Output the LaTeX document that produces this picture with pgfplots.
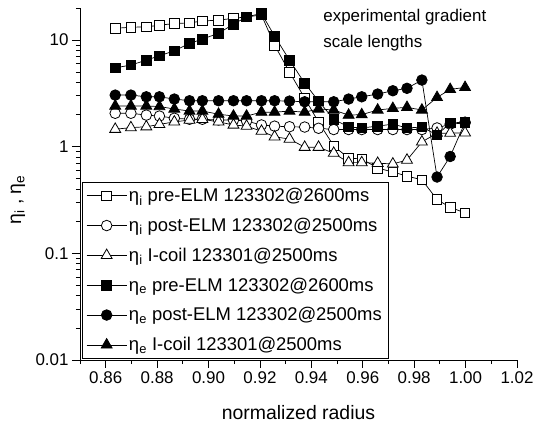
\documentclass[border=0pt]{standalone}
\usepackage{fontspec}
\setmainfont{Liberation Sans}
\usepackage{pgfplots}
\pgfplotsset{compat=1.18}
\usepackage{pgfplotstable}

\pgfplotstableread{
x ipre ipost icoil epre epost ecoil
0.8637 12.9 2.06 1.46 5.50 3.05 2.41
0.8698 13.2 2.06 1.51 5.83 3.05 2.41
0.8758 13.3 1.98 1.54 6.49 2.94 2.41
0.8809 13.8 1.94 1.62 7.12 2.94 2.38
0.8867 14.3 1.85 1.71 7.94 2.80 2.26
0.8926 14.5 1.81 1.78 9.31 2.70 2.16
0.8976 15.1 1.81 1.81 10.2 2.70 2.16
0.9039 15.4 1.78 1.71 11.6 2.70 2.02
0.9097 16.0 1.78 1.60 14.1 2.70 1.94
0.9148 16.5 1.74 1.56 16.5 2.70 1.94
0.9206 17.2 1.60 1.40 17.8 2.70 2.11
0.9257 8.97 1.56 1.24 10.9 2.70 2.11
0.9315 5.01 1.54 1.18 6.49 2.68 2.16
0.9374 2.86 1.53 0.99 3.95 2.64 2.11
0.9428 1.70 1.49 0.99 2.68 2.64 2.26
0.9487 1.02 1.45 0.87 1.81 2.64 2.21
0.9545 0.78 1.45 0.71 1.53 2.80 1.98
0.9596 0.77 1.45 0.71 1.50 2.94 2.00
0.9658 0.63 1.45 0.70 1.56 3.12 2.21
0.9717 0.58 1.45 0.69 1.63 3.35 2.29
0.9772 0.53 1.45 0.75 1.50 3.53 2.34
0.9830 0.49 1.45 1.11 1.53 4.22 2.21
0.9889 0.32 1.50 1.34 1.29 0.52 2.90
0.9940 0.27 1.63 1.34 1.67 0.81 3.45
0.9998 0.24 1.67 1.35 1.70 1.70 3.60
}\data

\begin{document}
\begin{tikzpicture}
\begin{axis}[
  scale only axis, width=437bp, height=352bp,
  xmin=0.85, xmax=1.02, ymode=log, ymin=0.01, ymax=20,
  axis x line*=bottom, axis y line*=left,
  axis line style={-, line width=0.8bp},
  every tick/.style={black, line width=0.8bp},
  tick align=outside, major tick length=8bp, minor tick length=4bp,
  xtick={0.86,0.88,0.90,0.92,0.94,0.96,0.98,1.00,1.02},
  minor xtick={0.85,0.87,0.89,0.91,0.93,0.95,0.97,0.99,1.01},
  ytick={0.01,0.1,1,10}, yticklabels={0.01,0.1,1,10},
  minor ytick={0.02,0.03,0.04,0.05,0.06,0.07,0.08,0.09,0.2,0.3,0.4,0.5,0.6,0.7,0.8,0.9,2,3,4,5,6,7,8,9,20},
  x tick label style={/pgf/number format/.cd, fixed, fixed zerofill, precision=2, assume math mode=true},
  tick label style={font=\fontsize{17}{20}\selectfont},
  xlabel={normalized radius},
  ylabel={η\textsubscript{i} , η\textsubscript{e}},
  label style={font=\fontsize{19.5}{23}\selectfont},
  xlabel style={at={(axis description cs:0.5,-0.148)}, anchor=center},
  ylabel style={at={(axis description cs:-0.142,0.455)}, anchor=center},
  legend style={at={(axis description cs:0.0046,0.5057)}, anchor=north west,
    draw=black, line width=0.6bp, font=\fontsize{18.5}{22}\selectfont,
    inner xsep=4bp, inner ysep=4bp, row sep=11bp, cells={anchor=west}},
  legend image code/.code={\draw[mark repeat=2,mark phase=2] plot coordinates {(0bp,0bp) (20bp,0bp) (40bp,0bp)};},
]
\addplot[black, line width=0.7bp, mark=square*, mark size=4.8bp, mark options={fill=white, line width=0.8bp, solid}] table[x=x,y=ipre]{\data};
\addlegendentry{η\textsubscript{i} pre-ELM 123302@2600ms}
\addplot[black, line width=0.7bp, mark=*, mark size=5.3bp, mark options={fill=white, line width=0.8bp, solid}] table[x=x,y=ipost]{\data};
\addlegendentry{η\textsubscript{i} post-ELM 123302@2500ms}
\addplot[black, line width=0.7bp, mark=triangle*, mark size=6.3bp, mark options={fill=white, line width=0.8bp, solid}] table[x=x,y=icoil]{\data};
\addlegendentry{η\textsubscript{i} I-coil 123301@2500ms}
\addplot[black, line width=0.7bp, mark=square*, mark size=4.8bp, mark options={fill=black, line width=0.8bp, solid}] table[x=x,y=epre]{\data};
\addlegendentry{η\textsubscript{e} pre-ELM 123302@2600ms}
\addplot[black, line width=0.7bp, mark=*, mark size=5.3bp, mark options={fill=black, line width=0.8bp, solid}] table[x=x,y=epost]{\data};
\addlegendentry{η\textsubscript{e} post-ELM 123302@2500ms}
\addplot[black, line width=0.7bp, mark=triangle*, mark size=6.3bp, mark options={fill=black, line width=0.8bp, solid}] table[x=x,y=ecoil]{\data};
\addlegendentry{η\textsubscript{e} I-coil 123301@2500ms}
\node[anchor=west, font=\fontsize{17}{20}\selectfont] at (axis description cs:0.549,0.974) {experimental gradient};
\node[anchor=west, font=\fontsize{17}{20}\selectfont] at (axis description cs:0.549,0.901) {scale lengths};
\end{axis}
\pgfresetboundingbox
\path[use as bounding box] (current axis.south west) ++(-80bp,-65bp) rectangle ++(534bp,425bp);
\end{tikzpicture}
\end{document}
